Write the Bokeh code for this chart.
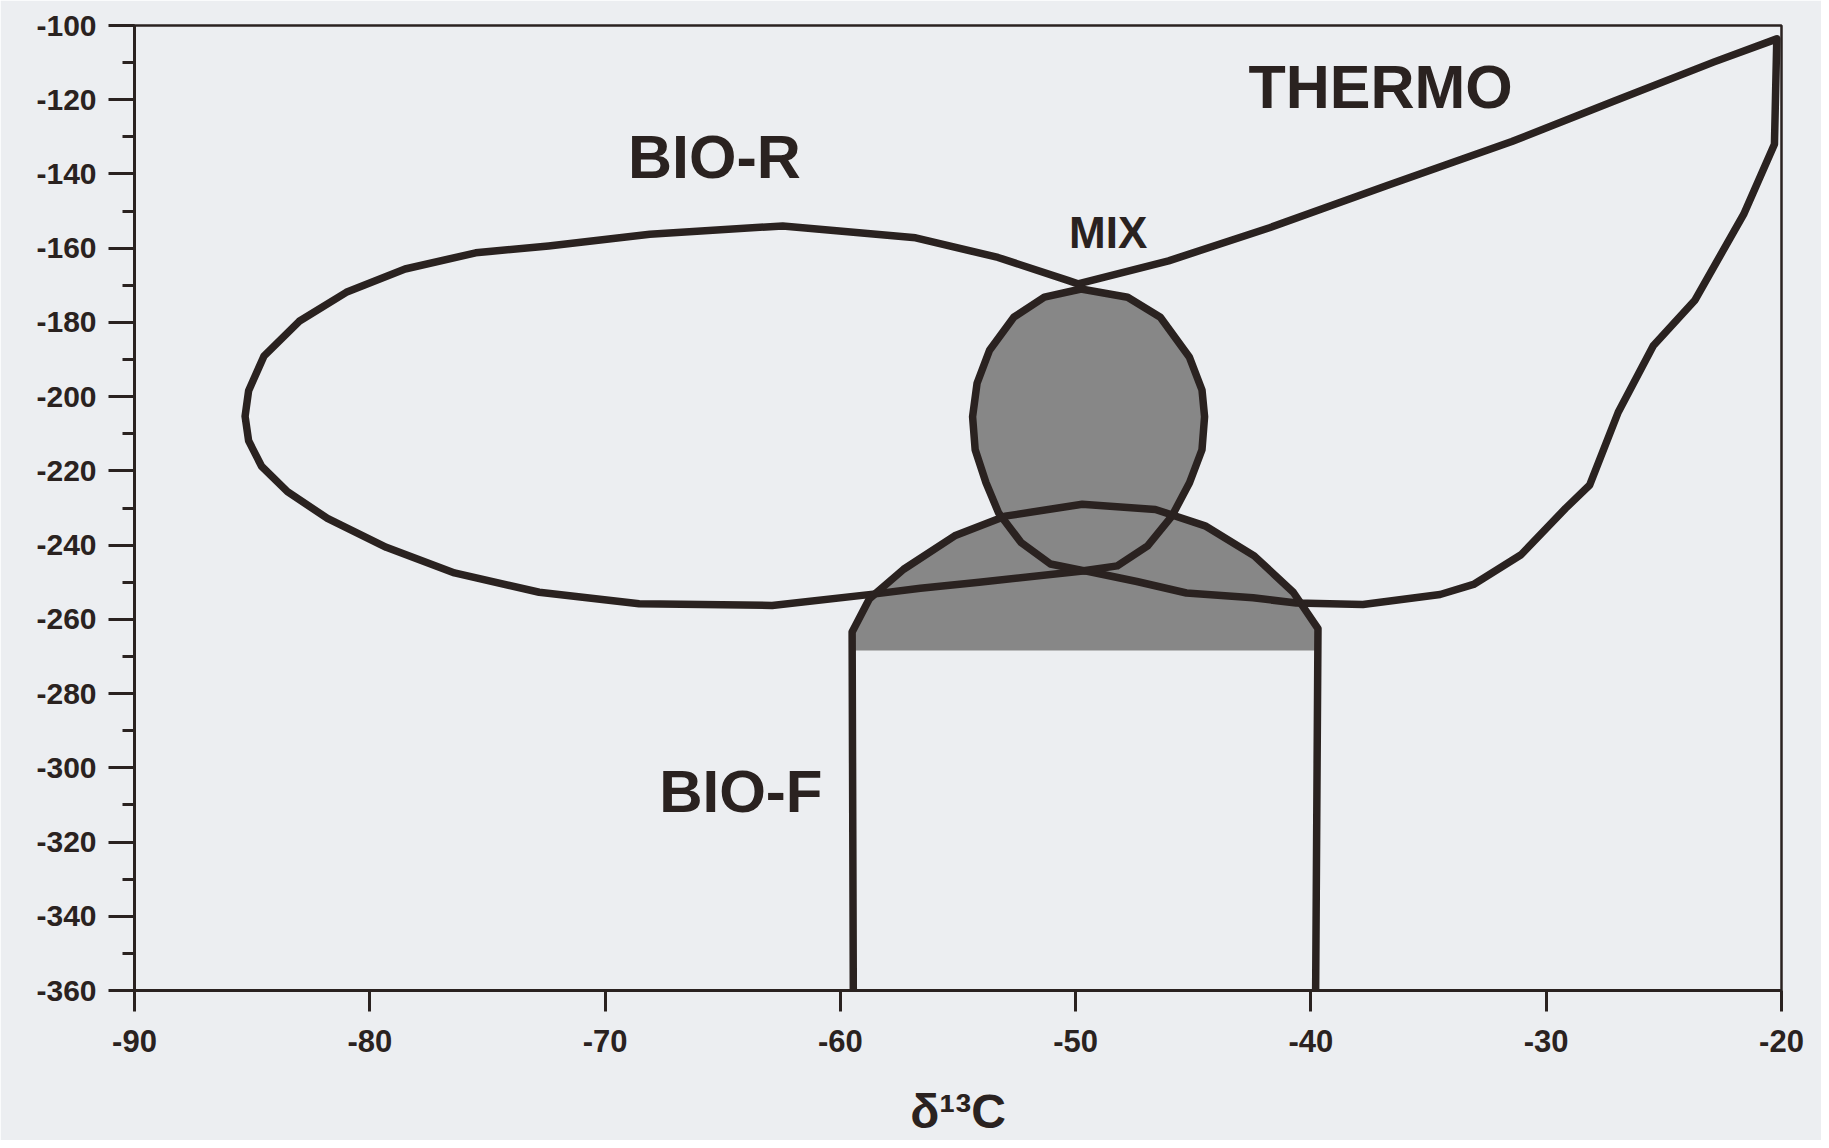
from bokeh.plotting import figure
from bokeh.models import Range1d, SingleIntervalTicker, PrintfTickFormatter
from bokeh.core.properties import value
from bokeh.embed import file_html
from bokeh.resources import INLINE

# ---- data (delta13C, deltaD) ----
x_ticks_interval = 10
y_ticks_interval = 20
x_title = "δ¹³C"

bior_x = [-49.9, -50.3, -53.3, -56.8, -62.45, -68.1, -72.4, -75.5, -78.5, -81.0, -83.0, -84.5,
          -85.15, -85.3, -85.15, -84.6, -83.5, -81.8, -79.3, -76.4, -72.8, -68.55, -62.9, -58.6,
          -56.6, -54.1, -49.6]
bior_y = [-169.6, -168.75, -162.5, -157.2, -154.0, -156.25, -159.4, -161.25, -165.6, -171.9,
          -179.7, -189.1, -198.4, -205.3, -211.9, -218.75, -225.6, -232.8, -240.6, -247.5,
          -252.7, -255.8, -256.25, -253.2, -251.6, -250.0, -246.9]

thermo_x = [-49.9, -46.05, -41.76, -36.76, -31.46, -27.16, -22.86, -20.2, -20.3, -21.61, -23.69,
            -25.45, -26.94, -28.15, -29.18, -31.07, -33.09, -34.51, -37.79, -40.62, -42.46,
            -45.29, -47.4, -49.6]
thermo_y = [-169.6, -163.4, -154.5, -143.1, -131.25, -120.5, -109.8, -103.6, -132.0, -150.9,
            -174.1, -186.3, -204.2, -223.8, -230.1, -242.6, -250.6, -253.3, -256.0, -255.6,
            -254.2, -252.9, -249.8, -246.9]

mix_x = [-49.77, -51.33, -52.63, -53.66, -54.19, -54.38, -54.27, -53.81, -53.28, -52.32, -51.07,
         -49.66, -48.23, -46.94, -45.91, -45.16, -44.63, -44.52, -44.63, -45.17, -46.4, -47.79,
         -49.77]
mix_y = [-171.0, -173.2, -178.6, -187.5, -196.4, -205.4, -214.3, -223.2, -231.25, -239.3, -245.1,
         -246.9, -245.6, -240.2, -232.2, -223.2, -214.3, -205.4, -198.2, -189.3, -178.6, -173.2,
         -171.0]

biof_x = [-59.45, -59.5, -58.77, -57.31, -55.14, -53.0, -49.72, -46.61, -44.5, -42.41, -40.75,
          -39.7, -39.8]
biof_y = [-360.0, -263.4, -254.5, -246.5, -237.5, -232.2, -229.0, -230.4, -234.8, -242.9, -252.7,
          -262.5, -360.0]

shade_floor = -268.4
dome_x = [biof_x[1]] + biof_x[1:12] + [biof_x[11]]
dome_y = [shade_floor] + biof_y[1:12] + [shade_floor]

region_names = ["BIO-R", "THERMO", "MIX", "BIO-F"]
region_x = [-65.35, -37.04, -48.62, -64.23]
region_y = [-135.3, -116.6, -155.8, -306.25]
region_size = ["61px", "61px", "44px", "60px"]

BG = "#eceef1"
INK = "#2a2220"
SHADE = "#878787"

p = figure(width=1821, height=1140, x_range=Range1d(-90, -20), y_range=Range1d(-360, -100),
           output_backend="svg", toolbar_location=None, title_location=None,
           min_border_left=134, min_border_right=40, min_border_top=25, min_border_bottom=143)
p.background_fill_color = BG
p.border_fill_color = BG
p.outline_line_color = INK
p.outline_line_width = 2.5
p.grid.visible = False

p.xaxis.ticker = SingleIntervalTicker(interval=x_ticks_interval, num_minor_ticks=0)
p.yaxis.ticker = SingleIntervalTicker(interval=y_ticks_interval, num_minor_ticks=2)
for ax in (p.xaxis, p.yaxis):
    ax.formatter = PrintfTickFormatter(format="%d")
    ax.axis_line_color = INK
    ax.axis_line_width = 3
    ax.major_tick_line_color = INK
    ax.major_tick_line_width = 3
    ax.minor_tick_line_color = INK
    ax.minor_tick_line_width = 3
    ax.major_tick_in = 0
    ax.minor_tick_in = 0
    ax.major_label_text_font = "Liberation Sans"
    ax.major_label_text_font_style = "bold"
    ax.major_label_text_color = INK
p.xaxis.major_tick_out = 21
p.xaxis.minor_tick_out = 0
p.xaxis.major_label_standoff = 18
p.xaxis.major_label_text_font_size = "31px"
p.yaxis.major_tick_out = 26
p.yaxis.minor_tick_out = 12
p.yaxis.major_label_standoff = 12
p.yaxis.major_label_text_font_size = "30px"

p.xaxis.axis_label = x_title
p.xaxis.axis_label_text_font = "Liberation Sans"
p.xaxis.axis_label_text_font_style = "bold"
p.xaxis.axis_label_text_font_size = "48px"
p.xaxis.axis_label_text_color = INK
p.xaxis.axis_label_standoff = 30

# shaded overlap zones
p.patch(mix_x, mix_y, fill_color=SHADE, line_color=None)
p.patch(dome_x, dome_y, fill_color=SHADE, line_color=None)

# outlines
for xs, ys in ((bior_x, bior_y), (thermo_x, thermo_y), (mix_x, mix_y), (biof_x, biof_y)):
    p.line(xs, ys, line_color=INK, line_width=7.5, line_join="round", line_cap="round")

for name, x, y, s in zip(region_names, region_x, region_y, region_size):
    p.text([x], [y], text=[name], text_font=value("Liberation Sans"), text_font_style="bold",
           text_font_size=s, text_color=INK, text_align="center", text_baseline="middle")

open("out.html", "w").write(file_html(p, INLINE))
